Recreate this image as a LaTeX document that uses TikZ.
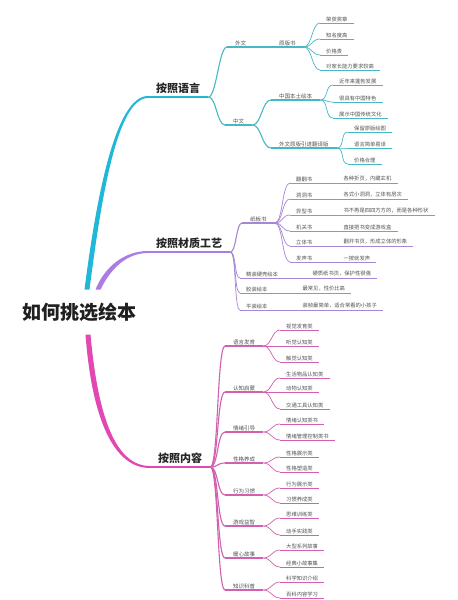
\documentclass[tikz,border=0pt]{standalone}
\usepackage{fontspec}
\setmainfont{Noto Sans CJK SC}
\usetikzlibrary{calc}
\definecolor{cyTrunk}{RGB}{32,184,214}
\definecolor{cyLine}{RGB}{70,184,196}
\definecolor{puTrunk}{RGB}{170,125,228}
\definecolor{puLine}{RGB}{165,135,212}
\definecolor{mgTrunk}{RGB}{226,72,178}
\definecolor{mgLine}{RGB}{210,95,175}
\newcommand\ulin[1]{\draw (#1.south west) -- (#1.south east);}
\newcommand\conn[3][8]{\draw (#2.south east) .. controls +(#1,0) and +(-#1,0) .. (#3.south west);}
\begin{document}
\begin{tikzpicture}[x=1pt,y=-1pt,
 lf/.style={anchor=south west,inner xsep=6pt,inner ysep=1.3pt,font=\fontsize{5.3}{6}\selectfont,text=black!68},
 md/.style={lf,inner xsep=8pt,font=\fontsize{5.5}{6.5}\selectfont},
 hd/.style={anchor=south west,inner xsep=8pt,inner ysep=3.5pt,font=\fontsize{11}{13}\selectfont\bfseries,text=black!85},
 pr/.style={lf,text width=#1,align=left},
 leafln/.style={line width=0.7pt},
 midln/.style={line width=1.1pt},
]
\fill[white] (0,0) rectangle (458,600);
\useasboundingbox (0,0) rectangle (458,600);
\node[font=\fontsize{19}{22}\selectfont\bfseries,text=black!88,inner ysep=13pt,inner xsep=2pt] (root) at (80,312) {如何挑选绘本};

% ---------- language ----------
\node[hd] (lang) at (148,97) {按照语言};
\node[md] (wai) at (227,47) {外文};
\node[md] (yuan) at (271,47) {原版书};
\node[lf] (y1) at (320,23) {荣获奖章};
\node[lf] (y2) at (320,39) {知名度高};
\node[lf] (y3) at (320,55) {价格贵};
\node[lf] (y4) at (320,70) {对家长能力要求较高};
\node[md] (zh) at (225,125) {中文};
\node[md] (bt) at (271,100) {中国本土绘本};
\node[lf] (b1) at (333,85) {近年来蓬勃发展};
\node[lf] (b2) at (333,102) {很具有中国特色};
\node[lf] (b3) at (333,118) {展示中国传统文化};
\node[md] (yj) at (271,148) {外文原版引进翻译版};
\node[lf] (j1) at (348,132) {保留原版绘图};
\node[lf] (j2) at (348,148) {语言简单易译};
\node[lf] (j3) at (348,164) {价格合理};

\fill[cyTrunk] ($(root.north)+(4.5,0)$) .. controls (96,200) and (115,96) .. ($(lang.south west)+(0,-1)$)
  -- ($(lang.south west)+(0,1)$) .. controls (117,98) and (101,200) .. ($(root.north)+(9.5,0)$) -- cycle;
\draw[cyTrunk,line width=2pt] (lang.south west) -- (lang.south east);
\begin{scope}[cyLine,midln]
\conn{lang}{wai} \conn{lang}{zh}
\ulin{wai} \ulin{zh} \conn{wai}{yuan} \ulin{yuan}
\conn[9]{zh}{bt} \conn[9]{zh}{yj} \ulin{bt} \ulin{yj}
\end{scope}
\begin{scope}[cyLine,leafln]
\conn{yuan}{y1} \conn{yuan}{y2} \conn{yuan}{y3} \conn{yuan}{y4}
\ulin{y1} \ulin{y2} \ulin{y3} \ulin{y4}
\conn{bt}{b1} \conn{bt}{b2} \conn{bt}{b3}
\ulin{b1} \ulin{b2} \ulin{b3}
\conn{yj}{j1} \conn{yj}{j2} \conn{yj}{j3}
\ulin{j1} \ulin{j2} \ulin{j3}
\end{scope}

% ---------- material ----------
\node[hd] (mat) at (148,252) {按照材质工艺};
\node[md] (zb) at (242,223) {纸板书};
\node[pr=35pt] (t1) at (290,183) {翻翻书};
\node[lf] (d1) at (t1.south east) {各种折页，内藏玄机};
\node[pr=35pt] (t2) at (290,199) {洞洞书};
\node[lf] (d2) at (t2.south east) {各式小洞洞，立体有层次};
\node[pr=35pt] (t3) at (290,215) {异型书};
\node[lf] (d3) at (t3.south east) {书不再是四四方方的，而是各种形状};
\node[pr=35pt] (t4) at (290,231) {机关书};
\node[lf] (d4) at (t4.south east) {直接把书变成游戏盒};
\node[pr=35pt] (t5) at (290,246) {立体书};
\node[lf] (d5) at (t5.south east) {翻开书页，形成立体的形象};
\node[pr=35pt] (t6) at (290,262) {发声书};
\node[lf] (d6) at (t6.south east) {一按就发声};
\node[pr=54pt] (jz) at (240,278) {精装硬壳绘本};
\node[lf] (jzd) at (jz.south east) {硬质纸书页，保护性很强};
\node[pr=44pt] (jiao) at (240,293) {胶装绘本};
\node[lf] (jiaod) at (jiao.south east) {最常见，性价比高};
\node[pr=44pt] (pz) at (240,310) {平装绘本};
\node[lf] (pzd) at (pz.south east) {装帧最简单，适合常看的小孩子};

\fill[puTrunk] ($(root.north)+(15.5,0)$) .. controls (105,266) and (125,251) .. ($(mat.south west)+(0,-1)$)
  -- ($(mat.south west)+(0,1)$) .. controls (127,253) and (111,268) .. ($(root.north)+(20.5,0)$) -- cycle;
\draw[puTrunk,line width=2pt] (mat.south west) -- (mat.south east);
\begin{scope}[puLine,midln]
\conn[6]{mat}{zb} \ulin{zb}
\end{scope}
\begin{scope}[puLine,leafln]
\conn[6]{mat}{jz} \conn[6]{mat}{jiao} \conn[6]{mat}{pz}
\draw (jz.south west) -- (jzd.south east);
\draw (jiao.south west) -- (jiaod.south east);
\draw (pz.south west) -- (pzd.south east);
\conn{zb}{t1} \conn{zb}{t2} \conn{zb}{t3} \conn{zb}{t4} \conn{zb}{t5} \conn{zb}{t6}
\draw (t1.south west) -- (d1.south east);
\draw (t2.south west) -- (d2.south east);
\draw (t3.south west) -- (d3.south east);
\draw (t4.south west) -- (d4.south east);
\draw (t5.south west) -- (d5.south east);
\draw (t6.south west) -- (d6.south east);
\end{scope}

% ---------- content ----------
\node[hd] (cont) at (150,467) {按照内容};
\node[md] (m1) at (225,346) {语言发育};
\node[lf] (a1) at (280,330) {视觉发育类};
\node[lf] (a2) at (280,346) {听觉认知类};
\node[lf] (a3) at (280,362) {触觉认知类};
\node[md] (m2) at (225,392) {认知启蒙};
\node[lf] (c1) at (280,378) {生活物品认知类};
\node[lf] (c2) at (280,392) {动物认知类};
\node[lf] (c3) at (280,409) {交通工具认知类};
\node[md] (m3) at (225,432) {情绪引导};
\node[lf] (e1) at (280,424) {情绪认知类书};
\node[lf] (e2) at (280,440) {情绪管理控制类书};
\node[md] (m4) at (225,463) {性格养成};
\node[lf] (f1) at (280,457) {性格展示类};
\node[lf] (f2) at (280,472) {性格塑造类};
\node[md] (m5) at (225,495) {行为习惯};
\node[lf] (g1) at (280,488) {行为展示类};
\node[lf] (g2) at (280,503) {习惯养成类};
\node[md] (m6) at (225,526) {游戏益智};
\node[lf] (h1) at (280,518) {思维训练类};
\node[lf] (h2) at (280,535) {动手实践类};
\node[md] (m7) at (225,558) {暖心故事};
\node[lf] (k1) at (280,550) {大型系列故事};
\node[lf] (k2) at (280,567) {经典小故事集};
\node[md] (m8) at (225,590) {知识科普};
\node[lf] (n1) at (280,582) {科学知识介绍};
\node[lf] (n2) at (280,598) {百科内容学习};

\fill[mgTrunk] ($(root.south)+(5.5,0)$) .. controls (92,420) and (114,468) .. ($(cont.south west)+(0,1)$)
  -- ($(cont.south west)+(0,-1)$) .. controls (116,466) and (98,418) .. ($(root.south)+(10.5,0)$) -- cycle;
\draw[mgTrunk,line width=2pt] (cont.south west) -- (cont.south east);
\begin{scope}[mgLine,midln]
\foreach \m in {m1,m2,m3,m4,m5,m6,m7,m8}{\conn{cont}{\m} \ulin{\m}}
\end{scope}
\begin{scope}[mgLine,leafln]
\foreach \p/\c in {m1/a1,m1/a2,m1/a3,m2/c1,m2/c2,m2/c3,m3/e1,m3/e2,m4/f1,m4/f2,m5/g1,m5/g2,m6/h1,m6/h2,m7/k1,m7/k2,m8/n1,m8/n2}{\conn{\p}{\c} \ulin{\c}}
\end{scope}
\end{tikzpicture}
\end{document}
